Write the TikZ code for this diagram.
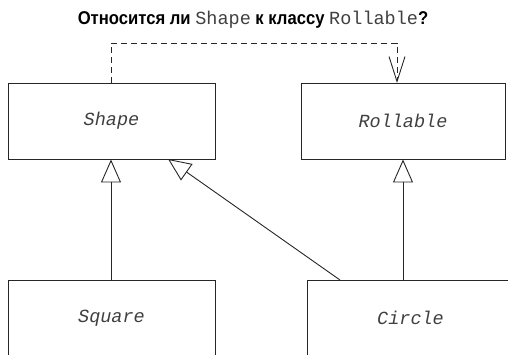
\documentclass[tikz,border=0pt]{standalone}
\usepackage{fontspec}
\usetikzlibrary{arrows.meta}
\newfontfamily\titlefont[FakeStretch=0.9]{Liberation Sans}
\newfontfamily\codefont{Liberation Mono}
\begin{document}
\begin{tikzpicture}[x=1pt,y=-1pt,
  conn/.style={draw=black!85, line width=0.9pt},
  classbox/.style={draw=black!85, line width=0.9pt, minimum width=207pt, minimum height=76pt, inner sep=0pt, font=\codefont\itshape\fontsize{18.5}{20}\selectfont, text=black!75},
  gen/.style={conn, -{Triangle[open, length=23pt, width=20pt, line width=0.9pt]}},
  real/.style={conn, dash pattern=on 6pt off 4pt, -{Straight Barb[length=25pt, width=16pt, line width=0.9pt]}}
]
\useasboundingbox (0,0) rectangle (508,354);
\clip (0,0) rectangle (508,354);
\node[anchor=base, inner sep=0pt, font=\fontsize{18.5}{20}\selectfont] (title) at (253,24) {\titlefont\bfseries Относится ли {\codefont\mdseries\color{black!75}Shape} к классу {\codefont\mdseries\color{black!75}Rollable}?};
\node[classbox] (Shape) at (111.5,121) {Shape};
\node[classbox, minimum width=204pt] (Rollable) at (403,121) {Rollable};
\node[classbox] (Square) at (111.5,318) {Square};
\node[classbox] (Circle) at (410.5,318) {Circle};
\coordinate (top) at (111,43);
\coordinate (rtop) at (397,83);
\coordinate (cstart) at (340,280);
\coordinate (stip) at (168,159);
\draw[real] (Shape.north -| top) -- (top) -| (rtop);
\draw[gen] (Square.north -| top) -- (Shape.south -| top);
\draw[gen] (Circle.north -| Rollable.south) -- (Rollable.south);
\draw[gen] (cstart) -- (stip);
\end{tikzpicture}
\end{document}
